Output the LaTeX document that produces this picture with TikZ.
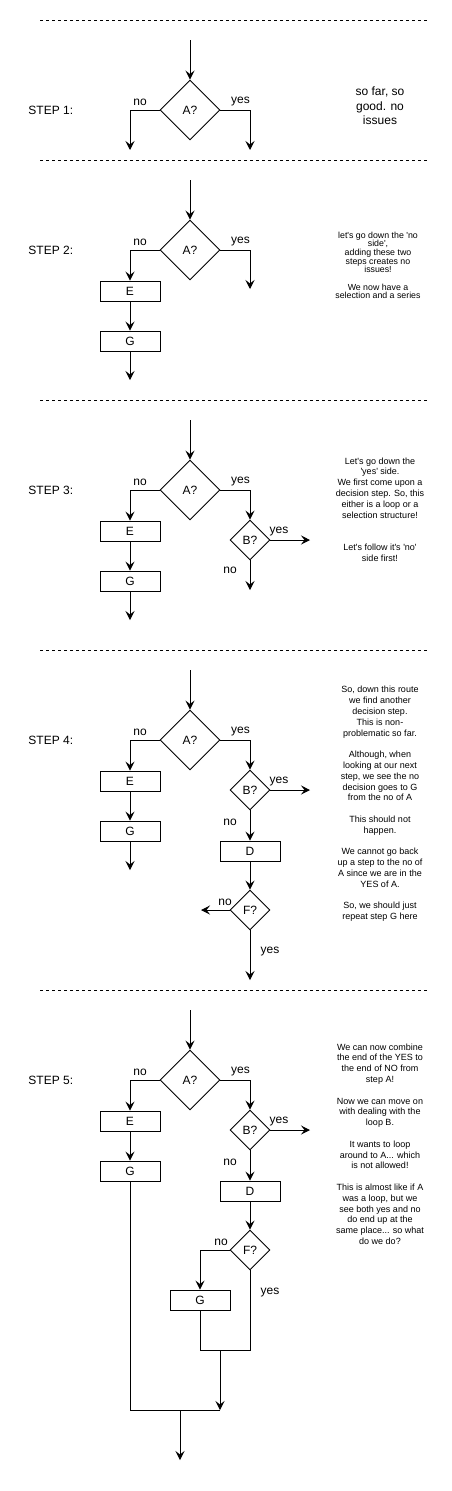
\documentclass[tikz,border=0pt]{standalone}
\usepackage{fontspec}
\setmainfont{Liberation Sans}
\usetikzlibrary{shapes.geometric,arrows.meta}
\newcommand{\ap}{\textquotesingle}
\begin{document}
\begin{tikzpicture}[x=1pt,y=-1pt,line width=0.9pt,
  dec/.style={draw,diamond,aspect=1,minimum width=60pt,minimum height=60pt,inner sep=0pt,font=\fontsize{12}{14}\selectfont},
  decs/.style={dec,minimum width=40pt,minimum height=40pt},
  proc/.style={draw,rectangle,minimum width=60pt,minimum height=20pt,inner sep=0pt,font=\fontsize{12}{14}\selectfont},
  arr/.style={-{Stealth[length=9pt,width=9pt,inset=3.5pt]}},
  lbl/.style={inner sep=0pt,font=\fontsize{12}{14}\selectfont},
  steplbl/.style={inner sep=0pt,anchor=west,font=\fontsize{12}{14}\selectfont},
  sep/.style={dash pattern=on 3pt off 3pt,line width=0.8pt},
  noteA/.style={align=center,inner sep=0pt,font=\fontsize{12}{14.5}\selectfont},
  noteB/.style={align=center,inner sep=0pt,font=\fontsize{8.8}{8.67}\selectfont},
  noteC/.style={align=center,inner sep=0pt,font=\fontsize{9}{10.8}\selectfont}]
\useasboundingbox (0,0) rectangle (452,1491);

% separators
\coordinate (d1a) at (40,20);  \coordinate (d1b) at (428,20);
\coordinate (d2a) at (40,160); \coordinate (d2b) at (428,160);
\coordinate (d3a) at (40,400); \coordinate (d3b) at (428,400);
\coordinate (d4a) at (40,650); \coordinate (d4b) at (428,650);
\coordinate (d5a) at (40,990); \coordinate (d5b) at (428,990);
\draw[sep] (d1a) -- (d1b);
\draw[sep] (d2a) -- (d2b);
\draw[sep] (d3a) -- (d3b);
\draw[sep] (d4a) -- (d4b);
\draw[sep] (d5a) -- (d5b);

% ---------------- STEP 1 ----------------
\node[steplbl] (st1) at (28,110) {STEP 1:};
\coordinate (in1) at (190,40);
\node[dec] (A1) at (190,110) {A?};
\coordinate (no1) at (130,150);
\coordinate (ye1) at (250,150);
\draw[arr] (in1) -- (A1.north);
\draw[arr] (A1.west) -| (no1);
\draw[arr] (A1.east) -| (ye1);
\node[lbl] (ln1) at (140,102) {no};
\node[lbl] (ly1) at (240.5,102) {yes};
\node[noteA] (t1) at (380,106) {so far, so\\good. no\\issues};

% ---------------- STEP 2 ----------------
\node[steplbl] (st2) at (28,250) {STEP 2:};
\coordinate (in2) at (190,180);
\node[dec] (A2) at (190,250) {A?};
\node[proc] (E2) at (130,291) {E};
\node[proc] (G2) at (130,341) {G};
\coordinate (go2) at (130,380);
\coordinate (ye2) at (250,289);
\draw[arr] (in2) -- (A2.north);
\draw[arr] (A2.west) -| (E2.north);
\draw[arr] (E2.south) -- (G2.north);
\draw[arr] (G2.south) -- (go2);
\draw[arr] (A2.east) -| (ye2);
\node[lbl] (ln2) at (140,242) {no};
\node[lbl] (ly2) at (240.5,242) {yes};
\node[noteB] (t2) at (378,265.5) {let\ap s go down the \ap no\\side\ap,\\adding these two\\steps creates no\\issues!\\[8.67pt]We now have a\\selection and a series};

% ---------------- STEP 3 ----------------
\node[steplbl] (st3) at (28,490) {STEP 3:};
\coordinate (in3) at (190,420);
\node[dec] (A3) at (190,490) {A?};
\node[proc] (E3) at (130,531) {E};
\node[proc] (G3) at (130,581) {G};
\coordinate (go3) at (130,620);
\node[decs] (B3) at (250,540) {B?};
\coordinate (by3) at (310,540);
\coordinate (bn3) at (250,590);
\draw[arr] (in3) -- (A3.north);
\draw[arr] (A3.west) -| (E3.north);
\draw[arr] (E3.south) -- (G3.north);
\draw[arr] (G3.south) -- (go3);
\draw[arr] (A3.east) -| (B3.north);
\draw[arr] (B3.east) -- (by3);
\draw[arr] (B3.south) -- (bn3);
\node[lbl] (ln3) at (140,482) {no};
\node[lbl] (ly3) at (240.5,482) {yes};
\node[lbl] (lby3) at (279,532) {yes};
\node[lbl] (lbn3) at (230,570) {no};
\node[noteC] (t3) at (380,509.5) {Let\ap s go down the\\\ap yes\ap\ side.\\We first come upon a\\decision step. So, this\\either is a loop or a\\selection structure!\\[21.6pt]Let\ap s follow it\ap s \ap no\ap\\side first!};

% ---------------- STEP 4 ----------------
\node[steplbl] (st4) at (28,740) {STEP 4:};
\coordinate (in4) at (190,670);
\node[dec] (A4) at (190,740) {A?};
\node[proc] (E4) at (130,781) {E};
\node[proc] (G4) at (130,831) {G};
\coordinate (go4) at (130,870);
\node[decs] (B4) at (250,790) {B?};
\coordinate (by4) at (310,790);
\node[proc] (D4) at (250,851) {D};
\node[decs] (F4) at (250,910) {F?};
\coordinate (fn4) at (201,910);
\coordinate (fy4) at (250,980);
\draw[arr] (in4) -- (A4.north);
\draw[arr] (A4.west) -| (E4.north);
\draw[arr] (E4.south) -- (G4.north);
\draw[arr] (G4.south) -- (go4);
\draw[arr] (A4.east) -| (B4.north);
\draw[arr] (B4.east) -- (by4);
\draw[arr] (B4.south) -- (D4.north);
\draw[arr] (D4.south) -- (F4.north);
\draw[arr] (F4.west) -- (fn4);
\draw[arr] (F4.south) -- (fy4);
\node[lbl] (ln4) at (140,732) {no};
\node[lbl] (ly4) at (240.5,732) {yes};
\node[lbl] (lby4) at (279,782) {yes};
\node[lbl] (lbn4) at (230,822) {no};
\node[lbl] (lfn4) at (225,902) {no};
\node[lbl] (lfy4) at (270,952) {yes};
\node[noteC] (t4) at (380,804) {So, down this route\\we find another\\decision step.\\This is non-\\problematic so far.\\[10.8pt]Although, when\\looking at our next\\step, we see the no\\decision goes to G\\from the no of A\\[10.8pt]This should not\\happen.\\[10.8pt]We cannot go back\\up a step to the no of\\A since we are in the\\YES of A.\\[10.8pt]So, we should just\\repeat step G here};

% ---------------- STEP 5 ----------------
\node[steplbl] (st5) at (28,1080) {STEP 5:};
\coordinate (in5) at (190,1010);
\node[dec] (A5) at (190,1080) {A?};
\node[proc] (E5) at (130,1121) {E};
\node[proc] (G5) at (130,1171) {G};
\node[decs] (B5) at (250,1130) {B?};
\coordinate (by5) at (310,1130);
\node[proc] (D5) at (250,1191) {D};
\node[decs] (F5) at (250,1250) {F?};
\node[proc] (H5) at (200,1300) {G};
\coordinate (j1) at (220,1350);
\coordinate (j2) at (220,1410);
\coordinate (j3) at (180,1410);
\coordinate (out5) at (180,1460);
\draw[arr] (in5) -- (A5.north);
\draw[arr] (A5.west) -| (E5.north);
\draw[arr] (E5.south) -- (G5.north);
\draw[arr] (A5.east) -| (B5.north);
\draw[arr] (B5.east) -- (by5);
\draw[arr] (B5.south) -- (D5.north);
\draw[arr] (D5.south) -- (F5.north);
\draw[arr] (F5.west) -| (H5.north);
\draw (H5.south) |- (j1) -| (F5.south);
\draw[arr] (j1) -- (j2);
\draw (G5.south) |- (j2);
\draw[arr] (j3) -- (out5);
\node[lbl] (ln5) at (140,1072) {no};
\node[lbl] (ly5) at (240.5,1072) {yes};
\node[lbl] (lby5) at (279,1122) {yes};
\node[lbl] (lbn5) at (230,1162) {no};
\node[lbl] (lfn5) at (221,1242) {no};
\node[lbl] (lfy5) at (270,1292) {yes};
\node[noteC] (t5) at (380,1144) {We can now combine\\the end of the YES to\\the end of NO from\\step A!\\[10.8pt]Now we can move on\\with dealing with the\\loop B.\\[10.8pt]It wants to loop\\around to A... which\\is not allowed!\\[10.8pt]This is almost like if A\\was a loop, but we\\see both yes and no\\do end up at the\\same place... so what\\do we do?};
\end{tikzpicture}
\end{document}
